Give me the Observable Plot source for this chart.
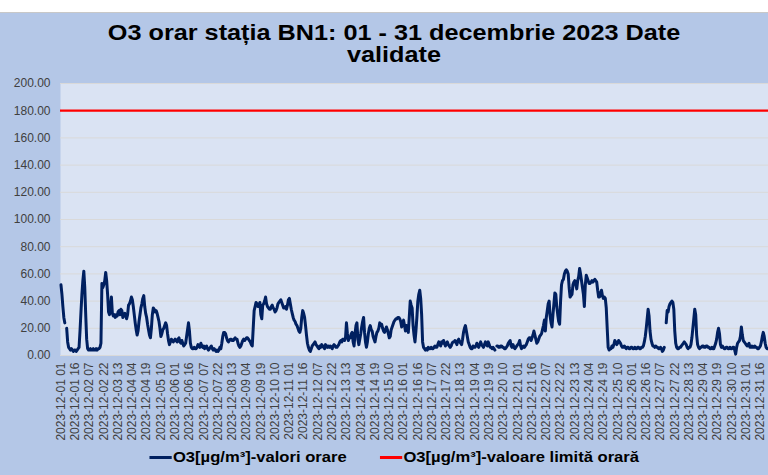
<!DOCTYPE html>
<html>
<head>
<meta charset="utf-8">
<script src="https://cdn.jsdelivr.net/npm/d3@7"></script>
<script src="https://cdn.jsdelivr.net/npm/@observablehq/plot@0.6"></script>
<style>
html, body { margin: 0; padding: 0; background: #ffffff; width: 768px; height: 475px; overflow: hidden;
  font-family: "Liberation Sans", Arial, sans-serif; }
#panel { position: absolute; left: 0; top: 12px; width: 788px; height: 463px; background: #b4c7e7; border-top: 1px solid #c8c8c8; }
#title { position: absolute; left: 0; top: 22px; width: 788px; text-align: center; font-weight: bold;
  font-size: 21.4px; line-height: 22px; color: #000; transform: scaleX(1.18); transform-origin: 394px 0; }
#chart { position: absolute; left: 0; top: 70px; }
#legend { position: absolute; left: 0; top: 446px; width: 788px; height: 22px; display: flex; justify-content: center;
  align-items: center; font-weight: bold; font-size: 14.2px; color: #000; white-space: nowrap;
  transform: scaleX(1.17); transform-origin: 394px 50%; }
.sw { display: inline-block; width: 19px; height: 3px; margin-right: 1.5px; }
</style>
</head>
<body>
<div id="panel"></div>
<div id="title"></div>
<div id="chart"></div>
<div id="legend"></div>
<script>
// ---- data ----
const titleLines = ["O3 orar stația BN1: 01 - 31 decembrie 2023 Date", "validate"];
const seriesNames = ["O3[µg/m³]-valori orare", "O3[µg/m³]-valoare limită orară"];
const seriesColors = ["#002060", "#ff0000"];
const limitValue = 180;
const yTicks = [0, 20, 40, 60, 80, 100, 120, 140, 160, 180, 200];
const year = 2023, month = 12, days = 31;
const labelStep = 15;
// hourly O3 values, hours 01..24 of each day (null = missing)
const o3Values = [
  52,45,36,28,24,null,20,10,6,5,4,5,4,3,4,4,3,4,5,6,18,32,45,55,      // 01
  62,50,30,12,5,4,4,5,4,4,5,4,4,5,4,5,5,6,9,53,50,52,55,61,           // 02
  55,45,32,30,36,43,31,29,30,28,30,29,32,33,30,34,33,28,30,31,29,27,30,37, // 03
  38,40,43,41,36,30,24,19,15,18,25,30,35,38,42,44,36,31,28,23,19,15,13,20, // 04
  30,35,34,32,33,31,28,25,20,14,16,19,20,22,24,22,16,11,8,10,12,11,10,11,  // 05
  12,11,10,12,13,10,9,11,9,7,8,9,14,19,24,18,9,6,5,5,6,5,5,6,          // 06
  8,7,6,9,7,6,7,5,6,7,5,4,5,6,7,5,4,5,4,3,4,3,4,6,                     // 07
  5,9,14,17,17,16,13,11,10,11,12,12,11,11,12,13,12,12,9,7,6,7,9,11,    // 08
  12,11,12,13,13,12,11,10,8,7,20,33,36,39,38,36,37,39,30,27,37,38,40,43, // 09
  38,36,35,34,34,36,37,35,34,32,33,35,38,39,40,41,39,37,35,35,36,34,37,41, // 10
  42,38,34,31,28,26,25,23,22,20,18,17,20,28,33,31,28,22,15,9,6,4,3,5,  // 11
  7,8,9,10,8,7,6,5,7,6,8,7,6,5,8,7,6,7,6,7,6,5,7,8,                    // 12
  7,6,6,7,8,10,11,10,12,12,11,13,24,16,11,13,13,16,17,10,7,16,22,24,   // 13
  12,8,12,16,21,25,28,17,10,6,10,16,20,22,19,18,14,12,10,14,17,18,20,24, // 14
  22,23,20,18,17,19,21,19,16,13,14,19,21,23,25,26,27,27,28,28,27,25,21,24, // 15
  26,22,18,22,20,17,28,40,37,35,22,15,10,18,28,40,45,48,42,30,10,6,5,4, // 16
  5,4,6,5,5,6,5,5,6,7,6,6,8,10,8,7,10,9,11,9,7,9,10,8,                 // 17
  7,6,7,9,10,10,11,10,8,11,12,10,9,8,12,17,20,22,18,14,10,8,6,5,       // 18
  5,7,6,6,7,9,7,6,8,10,8,7,6,8,10,8,7,10,8,6,6,5,6,5,                  // 19
  4,null,7,7,6,6,7,7,6,6,5,5,6,7,9,10,11,7,6,8,6,5,6,7,                // 20
  8,9,11,7,5,6,7,6,7,8,10,12,13,13,11,13,15,18,15,12,9,10,12,14,       // 21
  15,16,19,22,26,18,28,33,38,40,29,24,21,30,38,46,45,36,30,25,23,40,52,55, // 22
  56,60,62,63,62,60,50,43,44,45,52,54,55,52,49,55,58,64,60,55,50,45,36,52, // 23
  59,57,55,53,53,54,55,54,55,56,55,54,48,43,43,46,48,44,42,43,42,35,20,6,  // 24
  4,5,5,7,6,8,11,10,8,9,11,10,9,7,6,6,7,6,5,6,6,5,5,6,                 // 25
  6,5,5,6,5,5,6,6,5,5,6,6,7,10,14,20,27,34,29,18,12,9,7,7,             // 26
  6,7,6,6,5,5,6,5,3,4,6,null,24,33,32,36,38,39,40,39,34,18,9,6,        // 27
  5,5,6,6,7,8,9,10,9,8,6,5,6,6,8,13,20,27,34,30,15,8,6,5,              // 28
  6,6,7,7,6,6,7,7,6,6,5,5,6,5,5,7,9,12,17,20,16,8,6,7,                 // 29
  6,5,5,6,6,5,5,6,5,5,6,6,4,1,6,9,10,11,14,21,15,11,10,9,              // 30
  8,7,8,9,6,6,7,6,6,7,6,6,5,5,6,7,10,14,17,14,9,6,5,5                  // 31
];

// ---- build ----
const pad = n => String(n).padStart(2, "0");
const nHours = days * 24;
const labelOf = i => `${year}-${pad(month)}-${pad(Math.floor(i / 24) + 1)} ${pad((i % 24) + 1)}`;
const xTicks = d3.range(0, nHours, labelStep);
const rows = o3Values.map((v, i) => ({i, v}));

document.getElementById("title").innerHTML = titleLines.join("<br>");

const chart = Plot.plot({
  width: 768,
  height: 380,
  marginLeft: 60,
  marginRight: 0,
  marginTop: 13,
  marginBottom: 95,
  style: {background: "transparent", fontFamily: "'Liberation Sans', Arial, sans-serif", fontSize: "12px", color: "#404040", overflow: "visible"},
  x: {domain: [-0.5, nHours - 0.5], label: null},
  y: {domain: [0, 200], label: null},
  marks: [
    Plot.frame({fill: "#dae3f3", stroke: null}),
    Plot.ruleY(yTicks, {stroke: "#d9d9d9", strokeWidth: 1}),
    Plot.axisY(yTicks, {tickSize: 0, tickPadding: 10, tickFormat: d3.format(".2f"), fontSize: 12, fill: "#404040", label: null}),
    Plot.axisX(xTicks, {tickSize: 0, tickPadding: 7, tickRotate: -90, tickFormat: labelOf, fontSize: 12, fill: "#404040", label: null}),
    Plot.ruleY([limitValue], {stroke: seriesColors[1], strokeWidth: 2.25}),
    Plot.line(rows, {x: "i", y: "v", stroke: seriesColors[0], strokeWidth: 3, strokeLinejoin: "round", strokeLinecap: "round"})
  ]
});
document.getElementById("chart").appendChild(chart);

const legend = document.getElementById("legend");
seriesNames.forEach((name, k) => {
  const sw = document.createElement("span");
  sw.className = "sw";
  sw.style.background = seriesColors[k];
  if (k > 0) sw.style.marginLeft = "28px";
  const tx = document.createElement("span");
  tx.textContent = name;
  legend.appendChild(sw);
  legend.appendChild(tx);
});
</script>
</body>
</html>
